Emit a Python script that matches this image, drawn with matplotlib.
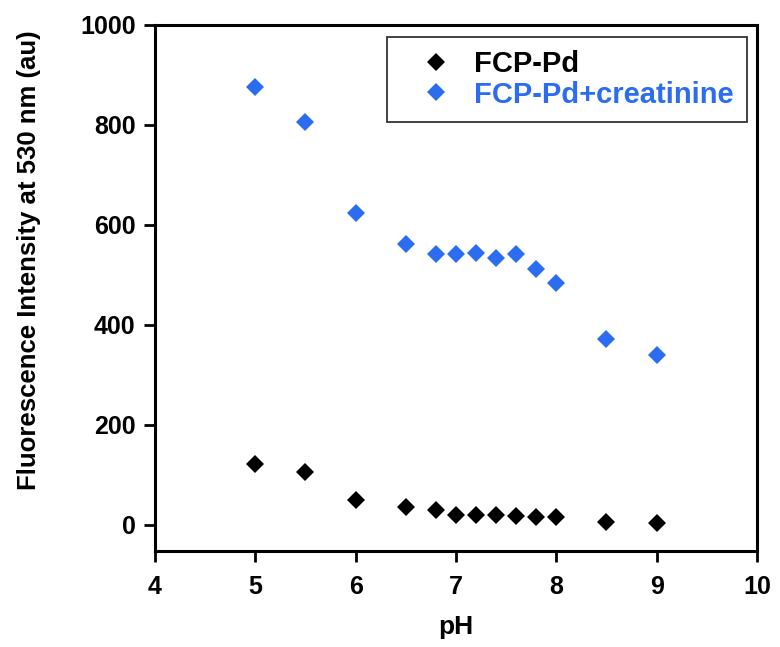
import matplotlib
matplotlib.use("Agg")
import matplotlib.pyplot as plt

# values
ph = [5.0, 5.5, 6.0, 6.5, 6.8, 7.0, 7.2, 7.4, 7.6, 7.8, 8.0, 8.5, 9.0]
fcp_pd = [122, 106, 50, 36, 30, 20, 20, 20, 18, 16, 16, 6, 4]
fcp_pd_creat = [876, 806, 624, 562, 542, 542, 544, 534, 542, 512, 484, 372, 340]

series_labels = ["FCP-Pd", "FCP-Pd+creatinine"]
series_colors = ["black", "#2b6cf0"]

x_ticks = [4, 5, 6, 7, 8, 9, 10]
y_ticks = [0, 200, 400, 600, 800, 1000]

plt.rcParams['font.family'] = ['Liberation Sans', 'DejaVu Sans']
plt.rcParams['font.weight'] = 'bold'

fig = plt.figure(figsize=(7.8, 6.47), dpi=100)
ax = fig.add_axes([0.1987, 0.1484, 0.7718, 0.813])

for yvals, lab, col in zip([fcp_pd, fcp_pd_creat], series_labels, series_colors):
    ax.plot(ph, yvals, linestyle='none', marker='D', markersize=9.5,
            color=col, markeredgewidth=0, label=lab)

ax.set_xlim(4, 10)
ax.set_ylim(-52, 1000)
ax.set_xticks(x_ticks)
ax.set_yticks(y_ticks)

for s in ax.spines.values():
    s.set_linewidth(2.2)
ax.tick_params(direction='out', length=8, width=2, labelsize=18)
ax.tick_params(axis='x', pad=9)
ax.tick_params(axis='y', pad=6)
for t in ax.get_xticklabels() + ax.get_yticklabels():
    t.set_fontweight('bold')

ax.set_xlabel("pH", fontsize=19, fontweight='bold', labelpad=12)
ax.set_ylabel("Fluorescence Intensity at 530 nm (au)", fontsize=18.5,
              fontweight='bold')
ax.yaxis.set_label_coords(-0.19, 0.553)

leg = ax.legend(loc='upper right', bbox_to_anchor=(0.983, 0.977),
                borderaxespad=0, fancybox=False, edgecolor='black',
                fontsize=21, labelcolor=series_colors, handletextpad=0.05,
                borderpad=0.45, labelspacing=0.08, handlelength=2.5,
                markerscale=0.95)
leg.get_frame().set_linewidth(1.3)
for t in leg.get_texts():
    t.set_fontweight('bold')

fig.savefig("out.png", dpi=100)
